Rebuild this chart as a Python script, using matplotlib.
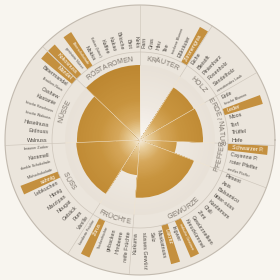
import numpy as np
import matplotlib.pyplot as plt
from matplotlib.colors import LinearSegmentedColormap
from matplotlib.textpath import TextPath
from matplotlib.font_manager import FontProperties

# aroma categories, clockwise from 12 o'clock, and their intensity (% of max)
categories = ['KRÄUTER', 'HOLZ', 'ERDE / NATUR', 'PFEFFER', 'GEWÜRZE',
              'FRÜCHTE', 'SÜSS', 'NÜSSE', 'RÖSTAROMEN']
intensity = [0, 83, 84, 49, 77, 47, 85, 84, 100]

krauter = ['Farn', 'Gras', 'Heu', 'Tee', 'trockene Blumen', 'Eßkräuter', 'Zitronengras']
holz = ['Eiche', 'Bleistift', 'Pinienharz', 'Rosenholz', 'Sandelholz', 'verrottendes Laub']
erde = ['Erde', 'frische Blumen', 'Leder', 'Moos', 'Torf', 'Trüffel', 'Hefe']
pfeffer = ['Schwarzer P.', 'Cayenne P.', 'roter Pfeffer', 'weißer Pfeffer']
gewuerze = ['Piment', 'Anis', 'Balsamico', 'bitter-süss', 'Kardamom', 'Chili', 'Zimt',
            'Gewürznelken', 'Kreuzkümmel', 'indische Gewürze', 'Ingwer', 'Lakritz',
            'Muskatnuss', 'Salz', 'süsses Gewürz', 'Kurkuma']
fruechte = ['reife Früchte', 'Himbeere', 'gebacken', 'Trockenfrüchte', 'Zitrus',
            'kandierte Früchte']
suess = ['Vanille', 'Rum', 'Gebäck', 'Nougat', 'Marzipan', 'Honig', 'Lebkuchen', 'sahnig',
         'Milchschokolade', 'dunkle Schokolade', 'Karamell', 'brauner Zucker']
nuesse = ['Walnuss', 'Erdnuss', 'Haselnuss', 'frische Walnuss', 'frische Haselnuss',
          'Kastanie', 'Cashew', 'Brasilien-Nuss', 'Bittermandel', 'Mandel']
roest = ['Kokosnuss', 'geröstete Nüsse', 'Bitterschokolade', 'Mokka', 'Kakao (bitter)',
         'Kaffee', 'Kakao', 'Brioche', 'Brot', 'Keks']
aromas = [krauter, holz, erde, pfeffer, gewuerze, fruechte, suess, nuesse, roest]

highlighted = ['Zitronengras', 'Leder', 'Schwarzer P.', 'indische Gewürze', 'Lakritz',
               'Zitrus', 'sahnig', 'Mandel', 'Kokosnuss', 'Bitterschokolade']

FONT = 'Liberation Sans'
R_CORE = 75
R_BAND = 88
R_OUT = 135
GOLD = '#C4903F'


def char_widths(s, size):
    fp = FontProperties(family=FONT, size=size)
    base = TextPath((0, 0), '||', prop=fp).get_extents().width
    return [(TextPath((0, 0), '|' + c + '|', prop=fp).get_extents().width - base) * 100 / 72
            for c in s]


def arc_text(ax, s, mid, r, size, color):
    w = np.array(char_widths(s, size))
    pos = np.cumsum(w) - w / 2 - w.sum() / 2
    upper = 0 < np.degrees(mid) % 360 < 180
    for c, p in zip(s, pos):
        if upper:
            th = mid - p / r
            ax.text(th, r - 2.4, c, rotation=np.degrees(th) - 90, rotation_mode='anchor',
                    ha='center', va='baseline', fontsize=size, color=color, family=FONT)
        else:
            th = mid + p / r
            ax.text(th, r + 2.4, c, rotation=np.degrees(th) + 90, rotation_mode='anchor',
                    ha='center', va='baseline', fontsize=size, color=color, family=FONT)


def radial_fill(ax, theta, width, r_max, cmap, n=45):
    # nested wedges, biggest first, so the colour follows the radius
    for k in range(n, 0, -1):
        r = r_max * k / n
        ax.bar(theta, r, width=width, bottom=0, color=cmap(r / R_CORE), lw=0)


n_slots = sum(len(a) for a in aromas)
step = 2 * np.pi / n_slots

fig = plt.figure(figsize=(2.8, 2.8), dpi=100, facecolor='#F8F5EF')
ax = fig.add_axes([0, 0, 1, 1], projection='polar')
ax.set_ylim(0, 140)
ax.set_axis_off()
ax.patch.set_alpha(0)

full = np.linspace(0, 2 * np.pi, 361)

# ring background
ax.bar(0, R_OUT, width=2 * np.pi, bottom=0, color='#EBE5DC', lw=0)

# light core
light_cmap = LinearSegmentedColormap.from_list('light', ['#FBF8F3', '#EEE8E0', '#E8E1D7'])
radial_fill(ax, 0, 2 * np.pi, R_CORE, light_cmap, n=30)

# gold intensity wedges
gold_cmap = LinearSegmentedColormap.from_list(
    'gold', [(0, '#F7F0E4'), (0.12, '#E9CF9E'), (0.3, '#D6A85C'),
             (0.55, '#C8943E'), (1, '#BD8731')])
start = np.pi / 2
bounds = []
for cat, val, names in zip(categories, intensity, aromas):
    end = start - len(names) * step
    bounds.append((end, start))
    r_val = val / 100 * R_CORE
    if r_val > 0:
        radial_fill(ax, (end + start) / 2, start - end, r_val, gold_cmap)
    start = end

# circles and category separators
ax.plot(full, np.full_like(full, R_BAND), color='#CDC5BA', lw=0.5)
ax.plot(full, np.full_like(full, R_OUT), color='#C2BAAF', lw=0.8)
for end, st in bounds:
    ax.plot([st, st], [0, R_CORE], color='#F0E4D0', lw=0.4)
    ax.plot([st, st], [R_CORE, R_OUT], color='#CBC3B8', lw=0.4)

# category labels
for cat, (end, st) in zip(categories, bounds):
    arc_text(ax, cat, (end + st) / 2, 81.5, 5.0, '#7D756C')

# aroma labels
slot = 0
for names in aromas:
    for name in names:
        th = np.pi / 2 - (slot + 0.5) * step
        slot += 1
        hl = name in highlighted
        if hl:
            ax.bar(th, 128 - R_BAND, width=step * 0.9, bottom=R_BAND, color=GOLD, lw=0)
        deg = (np.degrees(th) + 180) % 360 - 180
        if -90 <= deg <= 90:
            rot, ha = deg, 'left'
        else:
            rot, ha = deg - 180, 'right'
        fs = 2.6 if len(name) > 13 else 3.9
        ax.text(th, 92, name, rotation=rot, rotation_mode='anchor', ha=ha, va='center',
                fontsize=fs, family=FONT, color='white' if hl else '#4F4A44')

fig.savefig('out.png', dpi=100, facecolor=fig.get_facecolor())
